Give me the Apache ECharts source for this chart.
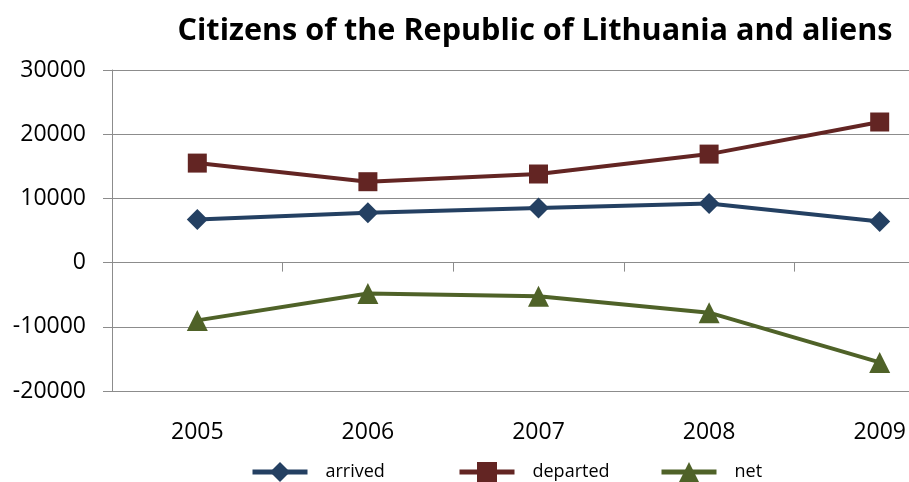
<!DOCTYPE html>
<html>
<head>
<meta charset="utf-8">
<script src="https://cdn.jsdelivr.net/npm/echarts@6/dist/echarts.min.js"></script>
<style>
html, body { margin: 0; padding: 0; background: #fff; }
#chartDiv { width: 909px; height: 482px; }
</style>
</head>
<body>
<div id="chartDiv"></div>
<script>
// chart init
var myChart = echarts.init(document.getElementById('chartDiv'));

// data
var years = ['2005', '2006', '2007', '2008', '2009'];
var arrived = [6700, 7750, 8500, 9200, 6400];
var departed = [15500, 12600, 13800, 16900, 21900];
var net = [-9000, -4800, -5250, -7800, -15550];

var colors = ['#244062', '#632523', '#4F6228'];
var gridColor = '#8c8c8c';
var font = 'Open Sans';

// one legend per item so the spacing can follow the picture
function makeLegend(name, left) {
    return {
        data: [name],
        left: left,
        top: 457,
        itemWidth: 55,
        itemHeight: 25,
        lineStyle: { width: 5 },
        textStyle: {
            fontFamily: font,
            fontSize: 18,
            color: '#000',
            padding: [0, 0, 0, 13]
        }
    };
}

function makeSeries(name, values, symbol, size, color) {
    return {
        name: name,
        type: 'line',
        data: values,
        symbol: symbol,
        symbolSize: size,
        xAxisIndex: 0,
        lineStyle: { width: 4, color: color },
        itemStyle: { color: color },
        animation: false
    };
}

var option = {
    backgroundColor: '#fff',
    title: {
        text: 'Citizens of the Republic of Lithuania and aliens',
        left: 530,
        textAlign: 'center',
        top: 11,
        textStyle: {
            fontFamily: font,
            fontSize: 30.6,
            fontWeight: 'bold',
            color: '#000'
        }
    },
    legend: [
        makeLegend('arrived', 245),
        makeLegend('departed', 452),
        makeLegend('net', 654)
    ],
    grid: {
        left: 112,
        top: 70,
        width: 853,
        height: 321,
        outerBoundsMode: 'none'
    },
    xAxis: [
        {
            type: 'category',
            data: years,
            boundaryGap: true,
            axisLine: { onZero: true, lineStyle: { color: gridColor, width: 1 } },
            axisTick: { show: true, length: 9, lineStyle: { color: gridColor } },
            axisLabel: { show: false }
        },
        {
            type: 'category',
            data: years,
            position: 'bottom',
            boundaryGap: true,
            axisLine: { show: false, onZero: false },
            axisTick: { show: false },
            axisLabel: {
                margin: 30,
                fontFamily: font,
                fontSize: 23,
                color: '#000'
            }
        }
    ],
    yAxis: {
        type: 'value',
        min: -20000,
        max: 30000,
        interval: 10000,
        axisLine: { show: true, lineStyle: { color: gridColor, width: 1 } },
        axisTick: { show: true, length: 9, lineStyle: { color: gridColor } },
        splitLine: { lineStyle: { color: gridColor, width: 1 } },
        axisLabel: {
            margin: 26,
            fontFamily: font,
            fontSize: 23,
            color: '#000',
            formatter: function (v) { return String(v); }
        }
    },
    series: [
        makeSeries('arrived', arrived, 'diamond', 21, colors[0]),
        makeSeries('departed', departed, 'rect', 19, colors[1]),
        makeSeries('net', net, 'triangle', 21, colors[2])
    ],
    animation: false
};
myChart.setOption(option);
</script>
</body>
</html>
